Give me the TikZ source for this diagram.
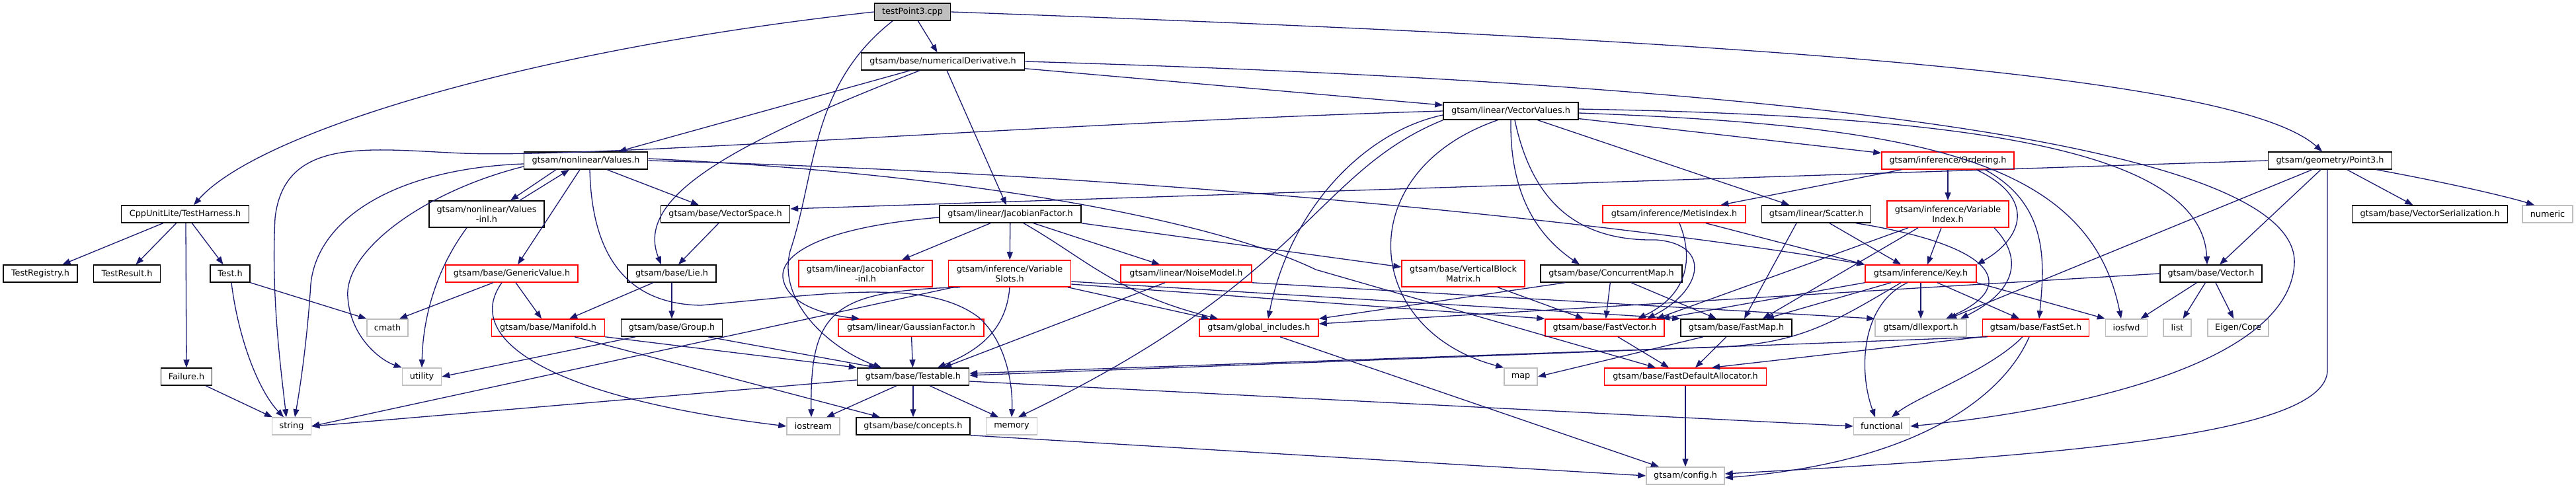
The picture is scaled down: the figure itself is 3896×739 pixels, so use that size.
\documentclass[tikz,border=0pt]{standalone}
\usepackage{fontspec}
\setmainfont{DejaVu Sans}
\usetikzlibrary{arrows.meta}
\definecolor{edgecol}{HTML}{191970}
\definecolor{lgray}{HTML}{BFBFBF}
\tikzset{
  nd/.style={draw=black, line width=1.5pt, fill=white, minimum height=26pt, inner sep=0pt, font=\fontsize{12.8}{15}\selectfont, align=center},
  rd/.style={nd, draw=red},
  gr/.style={nd, draw=lgray},
  rootnode/.style={nd, fill=lgray},
  edg/.style={draw=edgecol, line width=1.3pt, -{Triangle[length=12pt,width=9pt]}}
}
\begin{document}
\begin{tikzpicture}[x=1pt,y=-1pt]
\useasboundingbox (0,0) rectangle (3896,739);
\fill[white] (0,0) rectangle (3896,739);
% nodes
\node[rootnode, minimum width=115pt] (root) at (1380,18) {testPoint3.cpp};
\node[nd, minimum width=247pt] (numDeriv) at (1426,93) {gtsam/base/numericalDerivative.h};
\node[nd, minimum width=204pt] (VV) at (2285,168) {gtsam/linear/VectorValues.h};
\node[nd, minimum width=187pt] (Values) at (886,243) {gtsam/nonlinear/Values.h};
\node[rd, minimum width=200pt] (Ordering) at (2946,243) {gtsam/inference/Ordering.h};
\node[nd, minimum width=187pt] (Point3) at (3524,243) {gtsam/geometry/Point3.h};
\node[nd, minimum width=193pt] (Harness) at (280,324) {CppUnitLite/TestHarness.h};
\node[nd, minimum width=174pt, minimum height=40pt] (ValuesInl) at (736,324) {gtsam/nonlinear/Values\\-inl.h};
\node[nd, minimum width=195pt] (VSpace) at (1097,324) {gtsam/base/VectorSpace.h};
\node[nd, minimum width=214pt] (JF) at (1528,324) {gtsam/linear/JacobianFactor.h};
\node[rd, minimum width=216pt] (Metis) at (2532,324) {gtsam/inference/MetisIndex.h};
\node[nd, minimum width=165pt] (Scatter) at (2747,324) {gtsam/linear/Scatter.h};
\node[rd, minimum width=184pt, minimum height=40pt] (VarIdx) at (2946,324) {gtsam/inference/Variable\\Index.h};
\node[nd, minimum width=235pt] (VSer) at (3675,324) {gtsam/base/VectorSerialization.h};
\node[gr, minimum width=76pt] (numeric) at (3853,324) {numeric};
\node[nd, minimum width=112pt] (Registry) at (61,414) {TestRegistry.h};
\node[nd, minimum width=101pt] (Result) at (192,414) {TestResult.h};
\node[nd, minimum width=60pt] (Test) at (348,414) {Test.h};
\node[rd, minimum width=200pt] (Generic) at (774,414) {gtsam/base/GenericValue.h};
\node[nd, minimum width=134pt] (Lie) at (1016,414) {gtsam/base/Lie.h};
\node[rd, minimum width=202pt, minimum height=40pt] (JFinl) at (1309,414) {gtsam/linear/JacobianFactor\\-inl.h};
\node[rd, minimum width=185pt, minimum height=40pt] (VSlots) at (1527,414) {gtsam/inference/Variable\\Slots.h};
\node[rd, minimum width=198pt] (Noise) at (1794,414) {gtsam/linear/NoiseModel.h};
\node[rd, minimum width=186pt, minimum height=40pt] (VBM) at (2213,414) {gtsam/base/VerticalBlock\\Matrix.h};
\node[nd, minimum width=214pt] (CMap) at (2437,414) {gtsam/base/ConcurrentMap.h};
\node[rd, minimum width=168pt] (Key) at (2905,414) {gtsam/inference/Key.h};
\node[nd, minimum width=154pt] (Vector) at (3344,414) {gtsam/base/Vector.h};
\node[gr, minimum width=62pt] (cmath) at (586,496) {cmath};
\node[rd, minimum width=171pt] (Manifold) at (829,496) {gtsam/base/Manifold.h};
\node[nd, minimum width=153pt] (Group) at (1016,496) {gtsam/base/Group.h};
\node[rd, minimum width=220pt] (GF) at (1378,496) {gtsam/linear/GaussianFactor.h};
\node[rd, minimum width=180pt] (GInc) at (1904,496) {gtsam/global\_includes.h};
\node[rd, minimum width=180pt] (FVec) at (2427,496) {gtsam/base/FastVector.h};
\node[nd, minimum width=168pt] (FMap) at (2626,496) {gtsam/base/FastMap.h};
\node[gr, minimum width=138pt] (dll) at (2905,496) {gtsam/dllexport.h};
\node[rd, minimum width=161pt] (FSet) at (3079,496) {gtsam/base/FastSet.h};
\node[gr, minimum width=63pt] (iosfwd) at (3216,496) {iosfwd};
\node[gr, minimum width=42pt] (list) at (3293,496) {list};
\node[gr, minimum width=92pt] (Eigen) at (3385,496) {Eigen/Core};
\node[nd, minimum width=77pt] (Failure) at (282,570) {Failure.h};
\node[gr, minimum width=59pt] (utility) at (638,570) {utility};
\node[nd, minimum width=169pt] (Testable) at (1381,570) {gtsam/base/Testable.h};
\node[gr, minimum width=50pt] (map) at (2300,570) {map};
\node[rd, minimum width=245pt] (FDA) at (2549,570) {gtsam/base/FastDefaultAllocator.h};
\node[gr, minimum width=59pt] (string) at (441,645) {string};
\node[gr, minimum width=80pt] (iostream) at (1230,645) {iostream};
\node[nd, minimum width=172pt] (concepts) at (1381,645) {gtsam/base/concepts.h};
\node[gr, minimum width=77pt] (memory) at (1530,645) {memory};
\node[gr, minimum width=85pt] (functional) at (2846,645) {functional};
\node[gr, minimum width=118pt] (config) at (2549,720) {gtsam/config.h};
% root edges
\draw[edg] (root.west) .. controls (800,75) and (390,200) .. ([xshift=13pt]Harness.north);
\draw[edg] (root) -- (numDeriv);
\draw[edg] ([xshift=-30pt]root.south) .. controls (1225,130) and (1235,260) .. (1195,380) .. controls (1175,460) and (1260,530) .. ([xshift=-48pt]Testable.north);
\draw[edg] (root.east) .. controls (2600,60) and (3380,110) .. ([xshift=-12pt]Point3.north);
% numericalDerivative
\draw[edg] (numDeriv) -- (VV);
\draw[edg] (numDeriv) -- (Values);
\draw[edg] ([xshift=-35pt]numDeriv.south) .. controls (1100,220) and (960,300) .. ([xshift=-16pt]Lie.north);
\draw[edg] (numDeriv) -- (JF);
\draw[edg] (numDeriv.east) .. controls (2800,130) and (3480,230) .. (3470,400) .. controls (3460,560) and (3100,625) .. (functional.east);
% VectorValues
\draw[edg] (VV) -- (Ordering);
\draw[edg] (VV) -- (Scatter);
\draw[edg] ([yshift=3pt]VV.east) .. controls (2950,175) and (3330,220) .. ([xshift=-6pt]Vector.north);
\draw[edg] ([yshift=-3pt]VV.east) .. controls (2900,190) and (3160,240) .. ([xshift=-8pt]iosfwd.north);
\draw[edg] (VV.west) .. controls (1600,185) and (900,240) .. (700,232) .. controls (560,226) and (430,205) .. (416,330) .. controls (410,450) and (425,560) .. ([xshift=-8pt]string.north);
\draw[edg] ([yshift=-6pt]VV.west) .. controls (2060,200) and (1950,320) .. ([xshift=14pt]GInc.north);
\draw[edg] (VV.south west) .. controls (1990,260) and (1980,420) .. ([xshift=10pt]memory.north);
\draw[edg] ([xshift=-20pt]VV.south) .. controls (2040,260) and (2060,500) .. (map.north west);
\draw[edg] (VV.south) .. controls (2283,300) and (2330,360) .. ([xshift=-48pt]CMap.north);
\draw[edg] ([xshift=6pt]VV.south) .. controls (2320,320) and (2400,365) .. (2505,363) .. controls (2590,370) and (2575,440) .. ([xshift=64pt]FVec.north);
% Ordering
\draw[edg] (Ordering) -- (Metis);
\draw[edg] (Ordering) -- (VarIdx);
\draw[edg] ([xshift=43pt]Ordering.south) .. controls (3080,300) and (3060,360) .. (Key.north east);
\draw[edg] ([xshift=56pt]Ordering.south) .. controls (3100,310) and (3092,400) .. ([xshift=5pt]FSet.north);
% MetisIndex
\draw[edg] ([xshift=8pt]Metis.south) .. controls (2565,400) and (2545,450) .. ([xshift=50pt]FVec.north);
\draw[edg] ([xshift=48pt]Metis.south) -- (Key.north west);
% Scatter
\draw[edg] ([xshift=-30pt]Scatter.south) -- ([xshift=12pt]FMap.north);
\draw[edg] ([xshift=20pt]Scatter.south) -- ([xshift=-30pt]Key.north);
\draw[edg] ([xshift=60pt]Scatter.south) .. controls (3010,370) and (3060,430) .. ([xshift=38pt]dll.north);
% VariableIndex
\draw[edg] ([xshift=-60pt]VarIdx.south) -- ([xshift=78pt]FVec.north);
\draw[edg] ([xshift=-45pt]VarIdx.south) -- ([xshift=40pt]FMap.north);
\draw[edg] ([xshift=-10pt]VarIdx.south) -- ([xshift=10pt]Key.north);
\draw[edg] ([xshift=70pt]VarIdx.south) .. controls (3060,390) and (3050,440) .. ([xshift=60pt]dll.north);
% Key
\draw[edg] (Key.south west) -- ([xshift=86pt]FVec.north);
\draw[edg] ([xshift=-45pt]Key.south) -- ([xshift=45pt]FMap.north);
\draw[edg] (Key) -- (dll);
\draw[edg] ([xshift=-20pt]Key.south) .. controls (2815,460) and (2810,560) .. ([xshift=-10pt]functional.north);
\draw[edg] ([xshift=-30pt]Key.south) .. controls (2770,490) and (2720,520) .. (2600,525) -- ([yshift=5pt]Testable.east);
\draw[edg] ([xshift=25pt]Key.south) -- ([xshift=-25pt]FSet.north);
\draw[edg] (Key.south east) -- (iosfwd.north west);
% FastSet
\draw[edg] (FSet.south west) -- ([xshift=40pt]FDA.north);
\draw[edg] ([xshift=8pt]FSet.south west) -- ([yshift=2pt]Testable.east);
\draw[edg] ([xshift=-20pt]FSet.south) .. controls (3010,560) and (2900,600) .. ([xshift=15pt]functional.north);
\draw[edg] ([xshift=-10pt]FSet.south) .. controls (3030,600) and (2900,700) .. ([yshift=-3pt]config.east);
% Point3
\draw[edg] (Point3.west) -- ([yshift=8pt]VSpace.east);
\draw[edg] ([xshift=-14pt]Point3.south) -- ([xshift=13pt]Vector.north);
\draw[edg] ([xshift=-27pt]Point3.south) -- ([xshift=42pt]dll.north);
\draw[edg] (Point3) -- (VSer);
\draw[edg] ([xshift=70pt]Point3.south) .. controls (3720,280) and (3800,300) .. ([xshift=-20pt]numeric.north);
\draw[edg] ([xshift=-4pt]Point3.south) -- (3520,560) .. controls (3520,660) and (3100,690) .. ([yshift=3pt]config.east);
% Vector
\draw[edg] (Vector.west) -- ([yshift=6pt]GInc.east);
\draw[edg] (Vector) -- (iosfwd);
\draw[edg] (Vector) -- (list);
\draw[edg] (Vector) -- (Eigen);
% TestHarness
\draw[edg] (Harness) -- (Registry);
\draw[edg] (Harness) -- (Result);
\draw[edg] (Harness) -- (Test);
\draw[edg] ([xshift=1pt]Harness.south) -- (Failure.north);
% Test, Failure
\draw[edg] (Test.south east) -- (cmath.north west);
\draw[edg] ([xshift=2pt]Test.south) .. controls (360,510) and (390,590) .. ([xshift=-12pt]string.north);
\draw[edg] (Failure) -- (string);
% Values
\draw[edg] ([yshift=-5pt]Values.west) .. controls (600,255) and (480,330) .. (470,430) .. controls (465,510) and (455,580) .. ([xshift=5pt]string.north);
\draw[edg] ([yshift=-9pt]Values.west) .. controls (640,290) and (520,380) .. (526,450) .. controls (530,510) and (575,545) .. (utility.north west);
\draw[edg] (Values) -- (Generic);
\draw[edg] ([xshift=-45pt]Values.south) -- ([xshift=36pt]ValuesInl.north);
\draw[edg] ([xshift=50pt]ValuesInl.north) -- ([xshift=-25pt]Values.south);
\draw[edg] ([xshift=32pt]Values.south) -- ([xshift=-40pt]VSpace.north);
\draw[edg] ([xshift=6pt]Values.south) .. controls (895,390) and (950,460) .. (1060,462) .. controls (1250,445) and (1400,420) .. (1480,480) .. controls (1525,520) and (1532,590) .. (memory.north);
\draw[edg] ([yshift=3pt]Values.east) .. controls (1500,265) and (1850,340) .. (1990,408) -- ([xshift=-45pt]FDA.north);
\draw[edg] (Values.east) .. controls (1800,265) and (2500,345) .. (Key.north west);
% Values-inl
\draw[edg] ([xshift=-30pt]ValuesInl.south) .. controls (665,400) and (640,470) .. (utility.north);
% VectorSpace, Lie
\draw[edg] ([xshift=-10pt]VSpace.south) -- ([xshift=10pt]Lie.north);
\draw[edg] (Lie) -- (Group);
\draw[edg] ([xshift=-28pt]Lie.south) -- ([xshift=32pt]Manifold.north);
% GenericValue
\draw[edg] ([xshift=6pt]Generic.south) -- ([xshift=-10pt]Manifold.north);
\draw[edg] ([xshift=-28pt]Generic.south) -- ([xshift=18pt]cmath.north);
\draw[edg] ([xshift=-15pt]Generic.south) .. controls (700,510) and (820,600) .. (iostream.west);
% Group, Manifold
\draw[edg] ([xshift=-55pt]Group.south) -- (utility.east);
\draw[edg] ([xshift=55pt]Group.south) -- ([xshift=-55pt]Testable.north);
\draw[edg] (Manifold.south east) -- (Testable.north west);
\draw[edg] ([xshift=40pt]Manifold.south) -- ([xshift=-50pt]concepts.north);
% JacobianFactor
\draw[edg] ([xshift=-30pt]JF.south) -- ([xshift=55pt]JFinl.north);
\draw[edg] (JF) -- (VSlots);
\draw[edg] ([xshift=35pt]JF.south) -- ([xshift=-40pt]Noise.north);
\draw[edg] ([yshift=-5pt]JF.west) .. controls (1230,345) and (1175,390) .. (1185,425) .. controls (1195,465) and (1260,478) .. ([xshift=-78pt]GF.north);
\draw[edg] ([xshift=20pt]JF.south) .. controls (1640,390) and (1690,445) .. ([xshift=-62pt]GInc.north);
\draw[edg] (JF.south east) -- ([yshift=10pt]VBM.west);
% VariableSlots
\draw[edg] (VSlots.south) .. controls (1522,500) and (1480,530) .. ([xshift=37pt]Testable.north);
\draw[edg] ([xshift=-85pt]VSlots.south) -- (string.east);
\draw[edg] ([xshift=-75pt]VSlots.south) .. controls (1260,440) and (1225,470) .. ([xshift=-3pt]iostream.north);
\draw[edg] ([xshift=88pt]VSlots.south) -- ([xshift=-75pt]GInc.north);
\draw[edg] ([yshift=-12pt]VSlots.east) -- (FMap.north west);
\draw[edg] ([yshift=-16pt]VSlots.east) -- (FVec.north west);
% NoiseModel, GaussianFactor, global_includes
\draw[edg] ([xshift=-32pt]Noise.south) -- ([xshift=46pt]Testable.north);
\draw[edg] (Noise.south east) -- (dll.north west);
\draw[edg] (GF) -- (Testable);
\draw[edg] ([xshift=32pt]GInc.south) -- ([xshift=-40pt]config.north);
% Testable
\draw[edg] ([yshift=-5pt]Testable.west) -- (string.east);
\draw[edg] ([xshift=-25pt]Testable.south) -- ([xshift=20pt]iostream.north);
\draw[edg] (Testable) -- (concepts);
\draw[edg] ([xshift=25pt]Testable.south) -- ([xshift=-20pt]memory.north);
\draw[edg] ([yshift=-7pt]Testable.east) -- (functional.west);
\draw[edg] (concepts.south east) -- (config.west);
% Fast*
\draw[edg] ([xshift=20pt]FVec.south) -- ([xshift=-25pt]FDA.north);
\draw[edg] ([xshift=-15pt]FMap.south) -- ([xshift=15pt]FDA.north);
\draw[edg] ([xshift=-50pt]FMap.south) -- (map.east);
\draw[edg] (FDA) -- (config);
\draw[edg] ([xshift=52pt]VBM.south) -- ([xshift=-32pt]FVec.north);
\draw[edg] (CMap) -- (FVec);
\draw[edg] ([xshift=30pt]CMap.south) -- ([xshift=-30pt]FMap.north);
\draw[edg] ([xshift=-70pt]CMap.south) -- (GInc.north east);
\end{tikzpicture}
\end{document}
